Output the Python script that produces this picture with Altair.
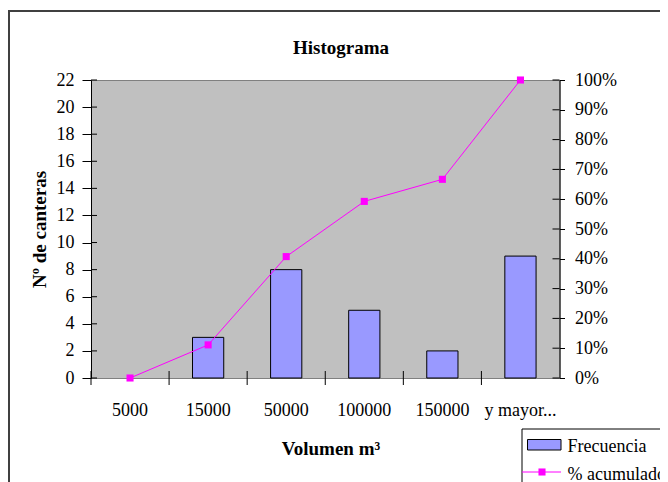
import altair as alt
import pandas as pd

# ---- data ----
categorias = ["5000", "15000", "50000", "100000", "150000", "y mayor..."]
frecuencia = [0, 3, 8, 5, 2, 9]
acumulado = [0.0, 11.11, 40.74, 59.26, 66.67, 100.0]
ticks_izq = [0, 2, 4, 6, 8, 10, 12, 14, 16, 18, 20, 22]
ticks_der = [0, 10, 20, 30, 40, 50, 60, 70, 80, 90, 100]
titulo = "Histograma"
titulo_y = "Nº de canteras"
titulo_x = "Volumen m³"
leyenda = ["Frecuencia", "% acumulado"]

W, H = 468.5, 298
FONT = "Liberation Serif"
BAR = "#9999FF"
LINE = "#FF00FF"

df = pd.DataFrame({"cat": categorias, "frecuencia": frecuencia, "acumulado": acumulado})
ysc = alt.Scale(domain=[0, 22], nice=False, zero=True)
xsc = alt.Scale(paddingInner=0, paddingOuter=0)

x_axis = alt.Axis(
    title=None, labels=False, ticks=False, tickSize=0, domainColor="black", grid=False,
)
y_axis = alt.Axis(
    values=ticks_izq, tickSize=9, tickColor="black", domainColor="black",
    labelFont=FONT, labelFontSize=18, labelColor="black", labelPadding=8, labelBaseline="middle",
    title=titulo_y, titleFont=FONT, titleFontSize=19, titleFontWeight="bold", titleColor="black",
    titleX=-45.7, titleY=H / 2, titleAngle=-90, titleBaseline="alphabetic", titleAlign="center",
    grid=False,
)
y2_axis = alt.Axis(
    orient="right", values=[t * 22 / 100 for t in ticks_der],
    labelExpr="round(datum.value*100/22) + '%'",
    tickSize=5, tickColor="black", domainColor="black",
    labelFont=FONT, labelFontSize=18, labelColor="black", labelPadding=10, labelBaseline="middle",
    title=None, grid=False,
)

one = pd.DataFrame({"k": [0]})

frame = alt.Chart(one).mark_rect(fill=None, stroke="#404040", strokeWidth=2).encode(
    x=alt.value(-82), y=alt.value(-69), x2=alt.value(W + 300), y2=alt.value(H + 300)
)

bars = alt.Chart(df).transform_filter("datum.frecuencia > 0").mark_bar(
    width={"band": 0.4}, fill=BAR, stroke="black", strokeWidth=1
).encode(
    x=alt.X("cat:N", sort=categorias, scale=xsc, axis=x_axis),
    y=alt.Y("frecuencia:Q", scale=ysc, axis=y_axis),
)

line = alt.Chart(df).transform_calculate(esc="datum.acumulado*22/100").mark_line(
    color=LINE, strokeWidth=1,
    point=alt.OverlayMarkDef(shape="square", size=50, filled=True, color=LINE, opacity=1),
).encode(
    x=alt.X("cat:N", sort=categorias, scale=xsc, axis=None),
    y=alt.Y("esc:Q", scale=ysc, axis=y2_axis),
)

# inner halves of the crossing tick marks (y axes) and full crossing x ticks
tl = alt.Chart(pd.DataFrame({"v": ticks_izq})).mark_rule(color="black", strokeWidth=1).encode(
    y=alt.Y("v:Q", scale=ysc, axis=None), x=alt.value(0), x2=alt.value(6)
)
tr = alt.Chart(pd.DataFrame({"p": ticks_der})).transform_calculate(v="datum.p*22/100").mark_rule(
    color="black", strokeWidth=1
).encode(y=alt.Y("v:Q", scale=ysc, axis=None), x=alt.value(W - 7), x2=alt.value(W))
tb = alt.Chart(pd.DataFrame({"cat": categorias})).mark_rule(color="black", strokeWidth=1).encode(
    x=alt.X("cat:N", sort=categorias, scale=xsc, axis=None, bandPosition=0),
    y=alt.value(H - 7), y2=alt.value(H + 7),
)

# category labels of the x axis, placed by the band scale
xlab = alt.Chart(pd.DataFrame({"cat": categorias})).mark_text(
    font=FONT, fontSize=18, color="black", align="center", baseline="alphabetic"
).encode(
    x=alt.X("cat:N", sort=categorias, scale=xsc, axis=None),
    y=alt.value(H + 38.4), text="cat:N",
)
xtit = alt.Chart(pd.DataFrame({"t": [titulo_x]})).mark_text(
    font=FONT, fontSize=19, fontWeight="bold", color="black", align="center", baseline="alphabetic"
).encode(text="t:N", x=alt.value(240), y=alt.value(H + 77))

title = alt.Chart(pd.DataFrame({"t": [titulo]})).mark_text(
    font=FONT, fontSize=19, fontWeight="bold", color="black", align="center", baseline="alphabetic"
).encode(text="t:N", x=alt.value(250), y=alt.value(-26))

# legend (bottom right, cut by the page edge as in the reference)
lbox = alt.Chart(one).mark_rect(fill="white", stroke="black", strokeWidth=1).encode(
    x=alt.value(431), y=alt.value(349), x2=alt.value(W + 300), y2=alt.value(H + 300)
)
lsw = alt.Chart(one).mark_rect(fill=BAR, stroke="black", strokeWidth=1).encode(
    x=alt.value(436.5), y=alt.value(359.5), x2=alt.value(470), y2=alt.value(370)
)
lln = alt.Chart(one).mark_rule(color=LINE, strokeWidth=1).encode(
    x=alt.value(431), x2=alt.value(470), y=alt.value(392)
)
lpt = alt.Chart(one).mark_square(size=50, color=LINE, opacity=1).encode(
    x=alt.value(451), y=alt.value(392)
)
ltx1 = alt.Chart(pd.DataFrame({"t": [leyenda[0]]})).mark_text(
    font=FONT, fontSize=18, color="black", align="left", baseline="alphabetic",
).encode(text="t:N", x=alt.value(476.5), y=alt.value(372.3))
ltx2 = alt.Chart(pd.DataFrame({"t": [leyenda[1]]})).mark_text(
    font=FONT, fontSize=18, color="black", align="left", baseline="alphabetic",
).encode(text="t:N", x=alt.value(476.5), y=alt.value(400))

chart = alt.layer(
    frame, bars, line, tl, tr, tb, xlab, xtit, title, lbox, lsw, lln, lpt, ltx1, ltx2
).resolve_axis(y="independent").properties(
    width=W, height=H, autosize="none",
    padding={"left": 83, "top": 72, "right": 100.5, "bottom": 104},
    background="white",
).configure_view(fill="#C0C0C0", stroke="#808080", strokeWidth=1)

chart.save("out.html", embed_options={"renderer": "svg", "actions": False})
